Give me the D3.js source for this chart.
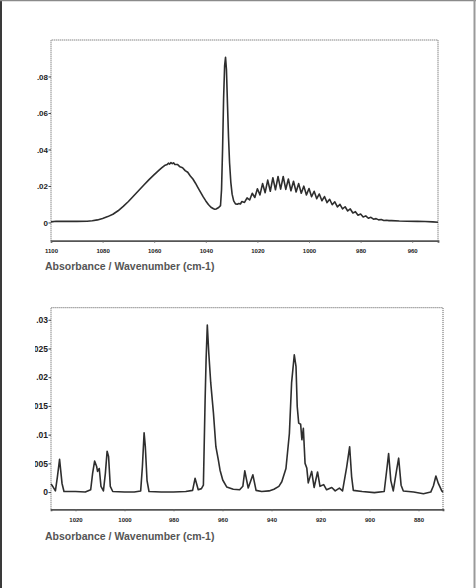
<!DOCTYPE html>
<html>
<head>
<meta charset="utf-8">
<script src="https://cdn.jsdelivr.net/npm/d3@7/dist/d3.min.js"></script>
<style>
  html, body { margin: 0; padding: 0; background: #fff; }
  svg { display: block; }
  text { font-family: "Liberation Sans", Arial, sans-serif; }
</style>
</head>
<body>
<svg id="chart" width="476" height="588"></svg>
<script>
// ---------------- DATA ----------------
// Top spectrum (wavenumber cm-1, absorbance)
const topWavenumber = [
  1100, 1098, 1096, 1094, 1090, 1086, 1084, 1082, 1080, 1078, 1076, 1074, 1072, 1070,
  1068, 1066, 1064, 1062, 1060, 1058, 1057, 1056, 1055, 1054.5, 1054, 1053.5, 1053, 1052.5,
  1052, 1051, 1050, 1049, 1048, 1047, 1046, 1045, 1044, 1043, 1042, 1041, 1040, 1039,
  1038, 1037, 1036.5, 1036, 1035, 1034.3, 1033.9, 1033.5, 1033.1, 1032.7, 1032.35, 1032.0,
  1031.6, 1031.2, 1030.8, 1030.3, 1029.8, 1029.2, 1028.5, 1027.8, 1027.2, 1026.6,
  1026, 1025, 1024, 1023, 1022, 1021, 1020, 1019, 1018, 1017, 1016, 1015, 1014, 1013,
  1012, 1011, 1010, 1009, 1008, 1007, 1006, 1005, 1004, 1003, 1002, 1001, 1000, 999,
  998, 997, 996, 995, 994, 993, 992, 991, 990, 989, 988, 987, 986, 985, 984, 983,
  982, 981, 980, 979, 978, 977, 976, 975, 974, 973, 972, 971, 970, 969, 968, 965,
  962, 958, 955, 952, 950
];
const topAbsorbance = [
  0.0003, 0.0007, 0.0006, 0.0007, 0.0006, 0.0007, 0.0009, 0.0014, 0.0022, 0.0032, 0.0045, 0.0064, 0.0088, 0.0115,
  0.0145, 0.0175, 0.0205, 0.0235, 0.0262, 0.0288, 0.0300, 0.0312, 0.0317, 0.0325, 0.0320, 0.0328, 0.0322, 0.0327,
  0.0318, 0.0318, 0.0305, 0.0300, 0.0284, 0.0275, 0.0255, 0.0238, 0.0215, 0.0190, 0.0165, 0.0140, 0.0118, 0.0098,
  0.0083, 0.0075, 0.0072, 0.0074, 0.0082, 0.0092, 0.0180, 0.0400, 0.0680, 0.0860, 0.0905, 0.0840,
  0.0650, 0.0470, 0.0330, 0.0220, 0.0155, 0.0118, 0.0102, 0.0100, 0.0104, 0.0101,
  0.0115, 0.0110, 0.0135, 0.0123, 0.0160, 0.0137, 0.0185, 0.0151, 0.0213, 0.0163, 0.0232, 0.0171, 0.0245, 0.0179,
  0.0252, 0.0183, 0.0252, 0.0181, 0.0238, 0.0174, 0.0226, 0.0167, 0.0213, 0.0160, 0.0199, 0.0151, 0.0186, 0.0141,
  0.0171, 0.0130, 0.0156, 0.0119, 0.0142, 0.0109, 0.0127, 0.0097, 0.0113, 0.0085, 0.0099, 0.0074, 0.0086, 0.0063, 0.0074, 0.0052,
  0.0059, 0.0040, 0.0046, 0.0030, 0.0036, 0.0023, 0.0028, 0.0018, 0.0021, 0.0014, 0.0016, 0.0011, 0.0012, 0.0010, 0.0010, 0.0008,
  0.0007, 0.0006, 0.0005, 0.0003, 0.0001
];
const topXTicks = [1100, 1080, 1060, 1040, 1020, 1000, 980, 960];
const topYTicks = [0, 0.02, 0.04, 0.06, 0.08];
const topYTickLabels = ["0", ".02", ".04", ".06", ".08"];
const topXDomain = [1100, 950];
const topYDomain = [-0.01, 0.1];

// Bottom spectrum
const bottomWavenumber = [
  1030, 1029.6, 1028.2, 1027.4, 1026.5, 1025.5, 1024.7, 1020, 1016, 1013.8, 1013, 1012.2, 1011.4,
  1011.0, 1010.3, 1009.6, 1008.6, 1007.8, 1007.1, 1006.5, 1005.8, 1004.8, 1000, 996, 993.4, 992.7,
  992, 991.5, 990.8, 990, 985, 980, 975, 972.2, 971.2, 969.9, 968.6, 967.8, 967.1, 966.7, 966.2,
  965.6, 964.8, 963.7, 962.7, 961.7, 961, 959.9, 958.3, 955.6, 953, 951.7, 950.9, 949.5, 947.6, 946.3,
  944, 941, 939, 937, 935.8, 934.1, 932.7, 931.8, 930.7, 930.0, 929.5, 928.9, 928.1, 927.6, 927.0,
  926.3, 925.6, 925.0, 923.6, 922.6, 921.2, 920.2, 918.7, 917.5, 915.4, 914, 912.3, 911, 909.3,
  908.1, 907.3, 906.6, 903, 898, 894, 892.7, 892.2, 891.3, 890.3, 888.9, 888.1, 887.1, 886.2,
  882, 878, 875, 873.9, 872.9, 871.9, 870.5, 870
];
const bottomAbsorbance = [
  0.0014, 0.0012, 0.0002, 0.0026, 0.0057, 0.0015, 0.0001, 0.0001, 0.0000, 0.0004, 0.0033, 0.0054, 0.0045,
  0.0036, 0.0041, 0.0010, 0.0002, 0.0033, 0.0071, 0.0062, 0.0010, 0.0001, 0.0000, 0.0000, 0.0002, 0.0044,
  0.0103, 0.0079, 0.0020, 0.0001, 0.0000, 0.0000, 0.0001, 0.0003, 0.0024, 0.0004, 0.0006, 0.0012, 0.0160, 0.0230, 0.0291,
  0.0242, 0.0190, 0.0138, 0.0079, 0.0056, 0.0038, 0.0021, 0.0009, 0.0005, 0.0004, 0.0010, 0.0037, 0.0007, 0.0030, 0.0003,
  0.0001, 0.0002, 0.0005, 0.0010, 0.0018, 0.0041, 0.0102, 0.0190, 0.0239, 0.0219, 0.0149, 0.0120, 0.0118, 0.0091, 0.0111,
  0.0050, 0.0042, 0.0016, 0.0036, 0.0008, 0.0035, 0.0010, 0.0013, 0.0004, 0.0008, 0.0002, 0.0007, 0.0002, 0.0044,
  0.0079, 0.0027, 0.0003, 0.0001, -0.0001, 0.0001, 0.0048, 0.0067, 0.0020, 0.0002, 0.0039, 0.0059, 0.0012, 0.0002,
  0.0000, -0.0003, 0.0000, 0.0011, 0.0028, 0.0015, 0.0002, 0.0000
];
const bottomXTicks = [1020, 1000, 980, 960, 940, 920, 900, 880];
const bottomYTicks = [0, 0.005, 0.01, 0.015, 0.02, 0.025, 0.03];
const bottomYTickLabels = ["0", ".005", ".01", ".015", ".02", ".025", ".03"];
const bottomXDomain = [1030, 870];
const bottomYDomain = [-0.003, 0.0321];

const axisTitle = "Absorbance / Wavenumber (cm-1)";

// ---------------- DRAW ----------------
const svg = d3.select("#chart");

// outer frame
svg.append("line").attr("x1", 1).attr("y1", 0).attr("x2", 1).attr("y2", 588)
  .attr("stroke", "#3a3a3a").attr("stroke-width", 2);
svg.append("line").attr("x1", 0).attr("y1", 0.5).attr("x2", 476).attr("y2", 0.5)
  .attr("stroke", "#8a8a8a").attr("stroke-width", 1.5);
svg.append("line").attr("x1", 474.5).attr("y1", 0).attr("x2", 474.5).attr("y2", 588)
  .attr("stroke", "#9a9a9a").attr("stroke-width", 2);

svg.append("defs").append("clipPath").attr("id", "labelClip")
  .attr("clipPathUnits", "userSpaceOnUse")
  .append("rect").attr("x", 35).attr("y", 0).attr("width", 441).attr("height", 588);

function panel(opt) {
  const g = svg.append("g");
  const x = d3.scaleLinear().domain(opt.xDomain).range([opt.left, opt.right]);
  const y = d3.scaleLinear().domain(opt.yDomain).range([opt.bottom, opt.top]);

  // dotted frame (top, left, right)
  const frame = d3.path();
  frame.moveTo(opt.left, opt.bottom);
  frame.lineTo(opt.left, opt.top);
  frame.lineTo(opt.right, opt.top);
  frame.lineTo(opt.right, opt.bottom);
  g.append("path").attr("d", frame.toString()).attr("fill", "none")
    .attr("stroke", "#555").attr("stroke-width", 1).attr("stroke-dasharray", "1,1");

  // bottom axis
  const xAxis = d3.axisBottom(x).tickValues(opt.xTicks).tickSize(2).tickPadding(6)
    .tickFormat(d3.format("d"));
  const xg = g.append("g").attr("transform", `translate(0,${opt.bottom})`).call(xAxis);
  xg.select(".domain").attr("stroke", "#555").attr("stroke-width", 1.8);
  xg.selectAll(".tick line").attr("stroke", "#666");
  xg.selectAll(".tick text").attr("fill", "#222").attr("font-size", opt.xFont)
    .attr("font-weight", "bold");

  // left axis (ticks + labels only; the dotted frame is the axis line)
  const yAxis = d3.axisLeft(y).tickValues(opt.yTicks).tickSize(2.5).tickPadding(0.5)
    .tickFormat((d, i) => opt.yLabels[i]);
  const ywrap = g.append("g");
  if (opt.clip) ywrap.attr("clip-path", "url(#labelClip)");
  const yg = ywrap.append("g").attr("transform", `translate(${opt.left},0)`).call(yAxis);
  yg.select(".domain").remove();
  yg.selectAll(".tick line").attr("stroke", "#444");
  yg.selectAll(".tick text").attr("fill", "#222").attr("font-size", opt.yFont)
    .attr("font-weight", "bold");

  // spectrum
  const pts = opt.xs.map((w, i) => [w, opt.ys[i]]);
  const line = d3.line().x(d => x(d[0])).y(d => y(d[1]));
  g.append("path").datum(pts).attr("d", line).attr("fill", "none")
    .attr("stroke", "#2e2e2e").attr("stroke-width", 1.6).attr("stroke-linejoin", "round");

  // title
  g.append("text").attr("x", 45).attr("y", opt.titleY).text(axisTitle)
    .attr("font-size", 10.5).attr("fill", "#555").attr("font-weight", "bold");
}

panel({
  left: 51, right: 438, top: 40, bottom: 240.7,
  xDomain: topXDomain, yDomain: topYDomain,
  xTicks: topXTicks, yTicks: topYTicks, yLabels: topYTickLabels,
  xs: topWavenumber, ys: topAbsorbance,
  xFont: 6, yFont: 8, titleY: 270, clip: false
});

panel({
  left: 51, right: 443, top: 307.7, bottom: 509.3,
  xDomain: bottomXDomain, yDomain: bottomYDomain,
  xTicks: bottomXTicks, yTicks: bottomYTicks, yLabels: bottomYTickLabels,
  xs: bottomWavenumber, ys: bottomAbsorbance,
  xFont: 6, yFont: 8.5, titleY: 540, clip: true
});
</script>
</body>
</html>
